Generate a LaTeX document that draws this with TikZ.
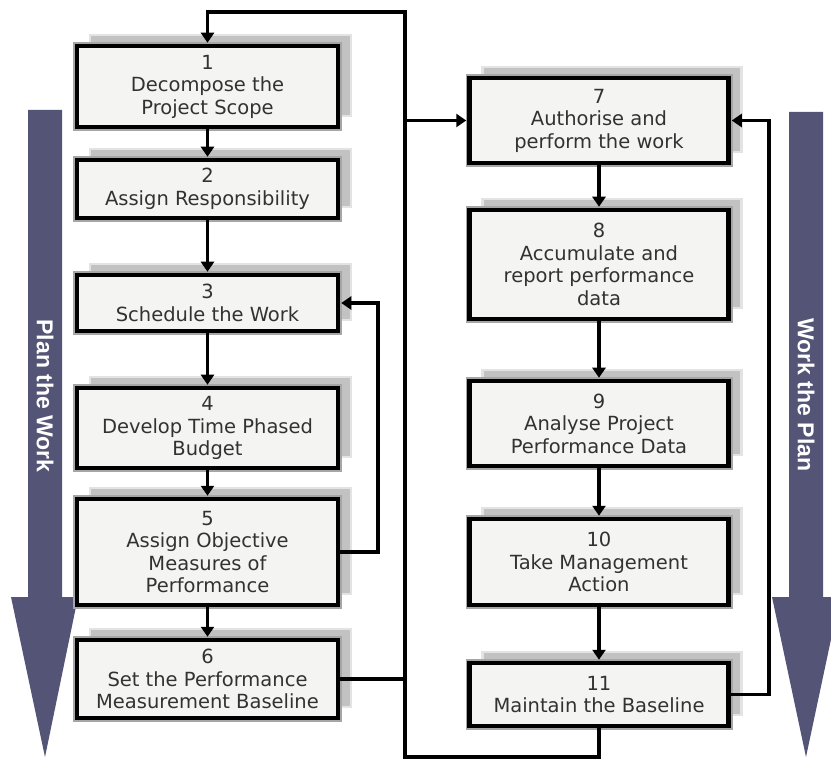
\documentclass[tikz,border=0pt]{standalone}
\usepackage{fontspec}
\setmainfont{DejaVu Sans}
\newfontfamily\bandfont{Liberation Sans}
\usetikzlibrary{arrows.meta,shadows}

\definecolor{boxfill}{RGB}{244,245,242}
\definecolor{boxtext}{RGB}{50,50,50}
\definecolor{band}{RGB}{83,84,118}

\tikzset{
  stepbox/.style={
    general shadow={shadow xshift=13pt, shadow yshift=11pt,
      fill=gray!48, draw=gray!22, line width=2.5pt},
    preaction={draw=gray!70, line width=8pt},
    draw=black, line width=4.5pt, fill=boxfill,
    text=boxtext, align=center, inner sep=2pt,
    font=\fontsize{19.5}{22.5}\selectfont},
  conn/.style={draw=black, line width=3.7pt},
  flow/.style={conn, -{Triangle[width=13pt,length=10pt]}, shorten >=1pt},
  bandtext/.style={text=white, rotate=-90,
    font=\bandfont\bfseries\fontsize{23}{26}\selectfont}
}

\begin{document}
\begin{tikzpicture}[x=1pt,y=-1pt]
\useasboundingbox (0,0) rectangle (831,762);

% side bands
\fill[band] (28,110) -- (62,110) -- (62,597) -- (78,597) -- (45,757)
  -- (11,597) -- (28,597) -- cycle;
\fill[band] (789,112) -- (823,112) -- (823,597) -- (840,597) -- (806,757)
  -- (772,597) -- (789,597) -- cycle;
\node[bandtext] (planlbl) at (45,396) {Plan the Work};
\node[bandtext] (worklbl) at (806,395) {Work the Plan};

% left column: planning steps
\node[stepbox, minimum width=261pt, minimum height=81pt]  (n1) at (207.5,86.5) {1\\Decompose the\\Project Scope};
\node[stepbox, minimum width=261pt, minimum height=58pt]  (n2) at (207.5,189) {2\\Assign Responsibility};
\node[stepbox, minimum width=261pt, minimum height=56pt]  (n3) at (207.5,303) {3\\Schedule the Work};
\node[stepbox, minimum width=261pt, minimum height=80pt]  (n4) at (207.5,428) {4\\Develop Time Phased\\Budget};
\node[stepbox, minimum width=261pt, minimum height=106pt] (n5) at (207.5,552) {5\\Assign Objective\\Measures of\\Performance};
\node[stepbox, minimum width=261pt, minimum height=78pt]  (n6) at (207.5,679) {6\\Set the Performance\\Measurement Baseline};

% right column: execution steps
\node[stepbox, minimum width=259pt, minimum height=85pt]  (n7)  at (599,120.5) {7\\Authorise and\\perform the work};
\node[stepbox, minimum width=259pt, minimum height=109pt] (n8)  at (599,264.5) {8\\Accumulate and\\report performance\\data};
\node[stepbox, minimum width=259pt, minimum height=85pt]  (n9)  at (599,423.5) {9\\Analyse Project\\Performance Data};
\node[stepbox, minimum width=259pt, minimum height=86pt]  (n10) at (599,562) {10\\Take Management\\Action};
\node[stepbox, minimum width=259pt, minimum height=63pt]  (n11) at (599,694.5) {11\\Maintain the Baseline};

% routing points
\coordinate (top) at (405,12);
\coordinate (bot) at (405,757);
\coordinate (lret) at (378,400);
\coordinate (rret) at (769,400);

% straight flow in each column
\draw[flow] (n1) -- (n2);
\draw[flow] (n2) -- (n3);
\draw[flow] (n3) -- (n4);
\draw[flow] (n4) -- (n5);
\draw[flow] (n5) -- (n6);
\draw[flow] (n7) -- (n8);
\draw[flow] (n8) -- (n9);
\draw[flow] (n9) -- (n10);
\draw[flow] (n10) -- (n11);

% feedback loops
\draw[flow] (n5.east) -- (n5.east -| lret) |- (n3.east);
\draw[flow] (n11.east) -- (n11.east -| rret) |- (n7.east);

% central spine
\draw[flow] (n11.south) |- (bot) -- (top) -| (n1.north);
\draw[conn] (n6.east) -- (n6.east -| top);
\draw[flow] (n7.west -| top) -- (n7.west);
\end{tikzpicture}
\end{document}
